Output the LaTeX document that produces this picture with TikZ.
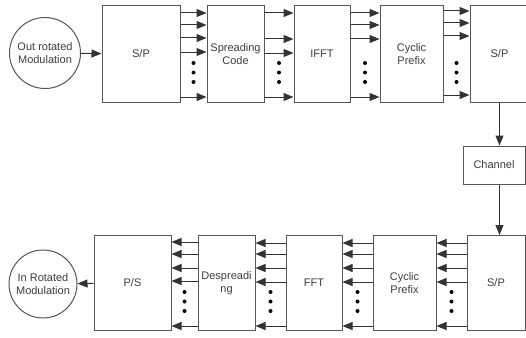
\documentclass[tikz,border=0pt]{standalone}
\usepackage{fontspec}
\setmainfont{Liberation Sans}
\usepackage{xcolor}
\usepackage{tikz}
\usetikzlibrary{arrows.meta,positioning,calc}
\definecolor{edgegray}{HTML}{555555}
\definecolor{textgray}{HTML}{3C3C3C}
\begin{document}
\begin{tikzpicture}[
  x=1pt, y=-1pt,
  box/.style={draw=edgegray, line width=1pt, align=center, inner sep=1pt, minimum height=96pt, font=\fontsize{11}{13.5}\selectfont, text=textgray},
  chanbox/.style={draw=edgegray, line width=1pt, align=center, minimum width=62pt, minimum height=38pt, font=\fontsize{11}{13.5}\selectfont, text=textgray},
  modc/.style={circle, draw=edgegray, line width=1pt, align=center, inner sep=1pt, font=\fontsize{11}{13.5}\selectfont, text=textgray},
  arrow/.style={-{Triangle[length=10pt,width=8pt]}, line width=1pt, draw=black!80},
  dot/.style={fill=black}
]
\useasboundingbox (0,0) rectangle (526,337);

% transmitter
\node[modc, minimum size=71pt] (outmod) at (45,53) {Out rotated\\Modulation};
\node[box, minimum width=78pt] (sp1) at (141,54) {S/P};
\node[box, minimum width=57pt, right=26pt of sp1] (spread) {Spreading\\Code};
\node[box, minimum width=56pt, right=29pt of spread] (ifft) {IFFT};
\node[box, minimum width=63pt, right=29pt of ifft] (cpa) {Cyclic\\Prefix};
\node[box, minimum width=59pt, right=26pt of cpa] (sp2) {S/P};

% channel
\node[chanbox] (chan) at (494,165) {Channel};

% receiver
\node[box, minimum width=58pt, minimum height=95pt] (sp3) at (496,283) {S/P};
\node[box, minimum width=63pt, minimum height=95pt, left=30pt of sp3] (cpb) {Cyclic\\Prefix};
\node[box, minimum width=56pt, minimum height=95pt, left=30pt of cpb] (fft) {FFT};
\node[box, minimum width=57pt, minimum height=95pt, left=30pt of fft] (desp) {Despreadi\\ng};
\node[box, minimum width=77pt, minimum height=95pt, left=26pt of desp] (ps) {P/S};
\node[modc, minimum size=68pt] (inmod) at (43,284) {In Rotated\\Modulation};

\draw[arrow] (outmod) -- (sp1);
\foreach \y in {13,25,38,52,97}
  \draw[arrow] (sp1.east |- 0,\y) -- (spread.west |- 0,\y);
\foreach \y in {13,39,53,97}
  \draw[arrow] (spread.east |- 0,\y) -- (ifft.west |- 0,\y);
\foreach \y in {13,25,39,97}
  \draw[arrow] (ifft.east |- 0,\y) -- (cpa.west |- 0,\y);
\foreach \y in {11,23,36,95}
  \draw[arrow] (cpa.east |- 0,\y) -- (sp2.west |- 0,\y);

\draw[arrow] (sp2.south) -- (sp2.south |- chan.north);
\draw[arrow] (sp2.south |- chan.south) -- (sp2.south |- sp3.north);

\foreach \y in {243,254,268,282,326} {
  \draw[arrow] (sp3.west |- 0,\y) -- (cpb.east |- 0,\y);
  \draw[arrow] (cpb.west |- 0,\y) -- (fft.east |- 0,\y);
  \draw[arrow] (fft.west |- 0,\y) -- (desp.east |- 0,\y);
}
\foreach \y in {242,254,268,281,326}
  \draw[arrow] (desp.west |- 0,\y) -- (ps.east |- 0,\y);
\draw[arrow] (ps) -- (inmod);

% dots
\foreach \y in {63,72.5,82} {
  \fill[dot] ($(sp1.east |- 0,\y)!.5!(spread.west |- 0,\y)$) circle (2pt);
  \fill[dot] ($(spread.east |- 0,\y)!.5!(ifft.west |- 0,\y)$) circle (2pt);
  \fill[dot] ($(ifft.east |- 0,\y)!.5!(cpa.west |- 0,\y)$) circle (2pt);
  \fill[dot] ($(cpa.east |- 0,\y)!.5!(sp2.west |- 0,\y)$) circle (2pt);
}
\foreach \y in {292,301.5,311} {
  \fill[dot] ($(cpb.east |- 0,\y)!.5!(sp3.west |- 0,\y)$) circle (2pt);
  \fill[dot] ($(fft.east |- 0,\y)!.5!(cpb.west |- 0,\y)$) circle (2pt);
  \fill[dot] ($(desp.east |- 0,\y)!.5!(fft.west |- 0,\y)$) circle (2pt);
  \fill[dot] ($(ps.east |- 0,\y)!.5!(desp.west |- 0,\y)$) circle (2pt);
}
\end{tikzpicture}
\end{document}
